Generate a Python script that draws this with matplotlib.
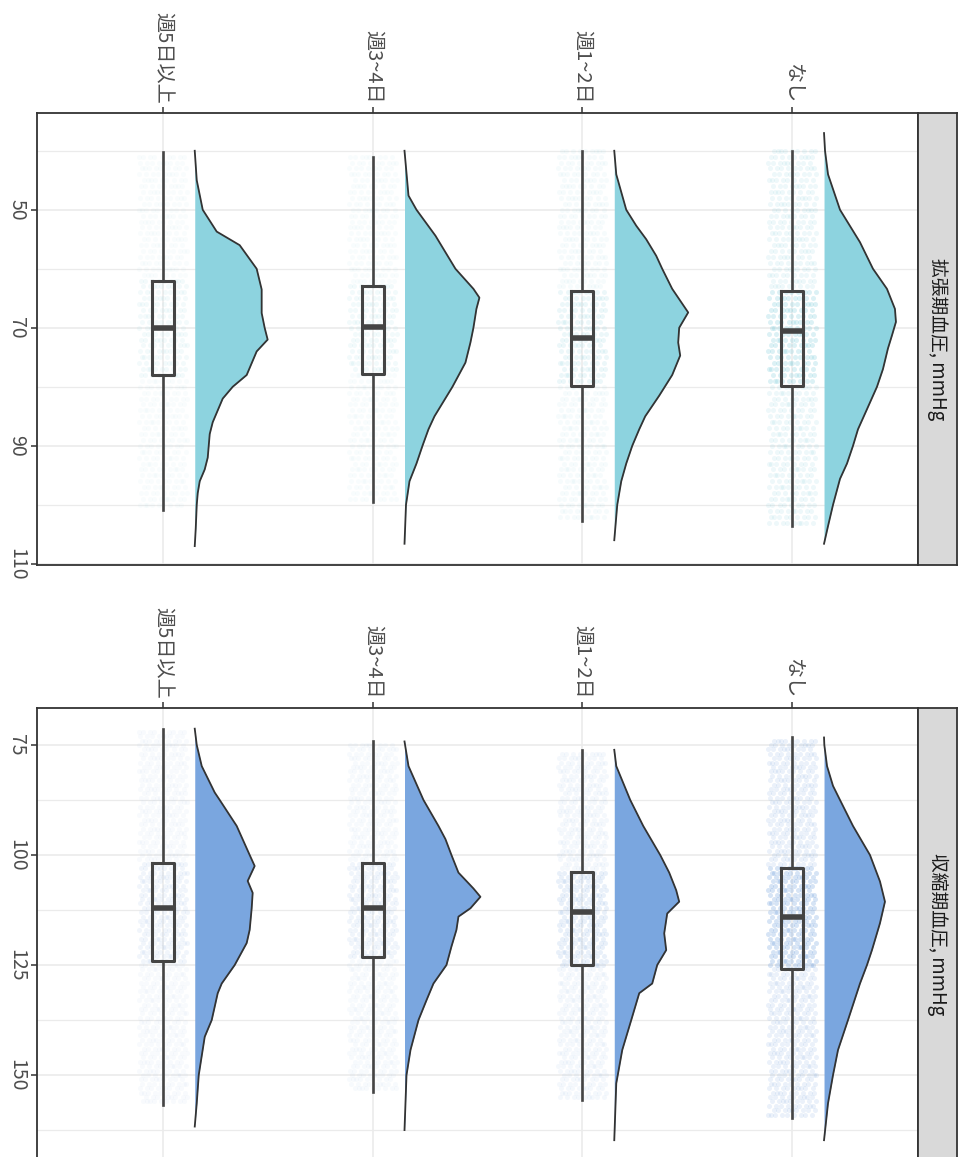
import numpy as np
import matplotlib.pyplot as plt

plt.rcParams['font.family'] = ['Noto Sans CJK JP', 'DejaVu Sans']

groups = ["週5日以上", "週3~4日", "週1~2日", "なし"]

# 拡張期血圧 (diastolic) - half violin profiles (value, width in px)
dia_y = [
    [40, 45, 50, 53.7, 56, 60, 63.5, 67.5, 70, 72, 74, 76, 78, 80, 82, 84, 86, 88, 90, 92, 94, 96, 98, 100, 104, 107],
    [40, 47.6, 50, 54.4, 60, 63.4, 64.9, 66.8, 70, 72.5, 75.9, 80, 85, 87.2, 90, 93, 96, 100, 106.6],
    [40, 44, 50, 52.7, 55, 57.8, 60, 63.4, 67.4, 70, 72.5, 74.7, 78, 81.5, 85, 87.2, 90, 93, 96, 100, 106],
    [37, 40, 44, 50, 55.5, 60, 63.4, 66.8, 69, 71.3, 73.5, 77, 80, 83.8, 87.2, 90, 93, 95.6, 100, 103.6, 106.6],
]
dia_w = [
    [0, 2, 8, 22, 45, 62, 67, 67, 70, 73, 62, 57, 52, 38, 28, 23, 18, 15, 14, 13, 10, 5, 3, 2, 1, 0],
    [0, 4, 12, 31, 51, 69, 75, 72, 69, 66, 61, 48, 30, 24, 18, 12, 5, 1.5, 0],
    [0, 2, 12, 22, 32, 42, 48, 58, 74, 65, 64, 66, 58, 45, 31, 25, 18, 12, 7, 3, 0],
    [0, 1, 4, 16, 36, 49, 63, 71, 72, 68, 64, 59, 53, 43, 34, 29, 23, 16, 9, 4, 0],
]
dia_whislo = [40.2, 41, 40, 40]
dia_q1 = [62, 62.9, 63.7, 63.7]
dia_med = [70, 69.8, 71.8, 70.5]
dia_q3 = [78, 77.9, 79.8, 79.8]
dia_whishi = [100.8, 99.6, 102.7, 103.6]

# 収縮期血圧 (systolic)
sys_y = [
    [71.3, 75, 79.8, 85.8, 87.5, 93.4, 100, 102.5, 105.9, 108.6, 112.1, 117, 120, 125, 129.2, 131.4, 137.5, 141.3, 150, 156.4, 161.7],
    [74.2, 79.8, 87.5, 93.4, 96.4, 100, 104, 107.6, 109.5, 112.1, 114, 117, 120.8, 125, 129.2, 133, 137.5, 144.3, 150, 162.5],
    [76.1, 79.8, 87.5, 93.4, 100, 104, 108, 110.6, 113.3, 117.8, 121.6, 125, 129.2, 131.4, 137.5, 144.3, 151.9, 164.8],
    [73.3, 75, 79.8, 84.3, 87.5, 93.4, 100, 106, 110.6, 115.5, 121.6, 125, 129.2, 137.5, 144.3, 150, 156.4, 164.8],
]
sys_w = [
    [0, 2, 7, 20, 25, 42, 55, 60, 53, 58, 57, 55, 52, 40, 27, 23, 17, 10, 4, 2, 0],
    [0, 4, 19, 34, 41, 47, 54, 69, 76, 66, 54, 52, 47, 42, 29, 22, 14, 6, 2, 0],
    [0, 2, 16, 29, 46, 55, 62, 65, 53, 50, 52, 43, 38, 25, 17, 8, 2, 0],
    [0, 0.3, 3, 9, 16, 29, 46, 56, 61, 56, 48, 43, 36, 24, 14, 9, 4, 0],
]
sys_whislo = [71.3, 74.2, 76.1, 73.3]
sys_q1 = [101.9, 101.9, 103.9, 102.9]
sys_med = [112.1, 112.1, 112.9, 114]
sys_q3 = [124, 123.1, 125, 125.9]
sys_whishi = [156.8, 153.8, 155.7, 159.8]

# how dense the jittered raw points look for each group
dot_alpha = [0.10, 0.11, 0.16, 0.30]

PX = 210.0  # pixels per category step

fig = plt.figure(figsize=(9.6, 11.57), dpi=100)


def panel(rect, ylim, ticks, minor, ys, ws, lo, q1, med, q3, hi, fill, label):
    ax = fig.add_axes(rect)
    ax.set_xlim(0.4, 4.6)
    ax.set_ylim(*ylim)
    ax.set_axisbelow(True)

    # jittered raw points, one row per integer value, spread with a golden-ratio sequence
    n_per_row = 9
    for i in range(4):
        rows = np.arange(np.ceil(lo[i]), np.floor(hi[i]) + 1)
        for k, r in enumerate(rows):
            a = dot_alpha[i] if q1[i] <= r <= q3[i] else dot_alpha[i] * 0.5
            idx = np.arange(n_per_row) + k * n_per_row + i * 101
            xs = i + 1 - 0.115 + 0.23 * ((idx * 0.6180339887) % 1)
            ax.scatter(xs, np.full(len(xs), r), s=13, color=fill, alpha=a,
                       linewidths=0, zorder=2)

    # half violins
    for i in range(4):
        base = i + 1 + 0.152
        w = np.array(ws[i]) / PX
        ax.fill_betweenx(ys[i], base, base + w, color=fill, lw=0, zorder=3)
        ax.plot(base + w, ys[i], color="#333333", lw=1.3, zorder=3)

    stats = [dict(med=med[i], q1=q1[i], q3=q3[i], whislo=lo[i], whishi=hi[i], fliers=[])
             for i in range(4)]
    ax.bxp(stats, positions=[1, 2, 3, 4], widths=0.105, showcaps=False, showfliers=False,
           boxprops=dict(color="#444444", lw=2.2),
           whiskerprops=dict(color="#444444", lw=1.9),
           medianprops=dict(color="#444444", lw=4.0),
           manage_ticks=False, zorder=4)

    ax.set_xticks([1, 2, 3, 4])
    ax.set_xticklabels(groups, rotation=270, fontsize=14.5, color="#4D4D4D")
    ax.xaxis.tick_top()
    ax.set_yticks(ticks)
    ax.set_yticklabels([str(t) for t in ticks], rotation=270, fontsize=14,
                       color="#4D4D4D", va="center")
    ax.set_yticks(minor, minor=True)
    ax.tick_params(which="major", length=4, width=1.1, color="#333333", pad=3)
    ax.tick_params(which="minor", length=0)
    ax.grid(which="major", color="#EBEBEB", lw=1.2)
    ax.yaxis.grid(which="minor", color="#EBEBEB", lw=0.9)
    for s in ax.spines.values():
        s.set_color("#333333")
        s.set_linewidth(1.3)

    # facet strip on the right
    sx = fig.add_axes([rect[0] + rect[2], rect[1], 39 / 960, rect[3]])
    sx.set_xticks([])
    sx.set_yticks([])
    sx.set_facecolor("#D9D9D9")
    for s in sx.spines.values():
        s.set_color("#333333")
        s.set_linewidth(1.3)
    sx.text(0.5, 0.5, label, rotation=270, ha="center", va="center",
            fontsize=13.5, color="#1A1A1A", transform=sx.transAxes)
    return ax


panel([37 / 960, 1 - 565 / 1157, 881 / 960, 452 / 1157], (110.2, 33.6),
      [50, 70, 90, 110], [40, 60, 80, 100],
      dia_y, dia_w, dia_whislo, dia_q1, dia_med, dia_q3, dia_whishi,
      "#8DD3DF", "拡張期血圧, mmHg")

panel([37 / 960, 1 - 1160 / 1157, 881 / 960, 452 / 1157], (169.3, 66.6),
      [75, 100, 125, 150], [87.5, 112.5, 137.5, 162.5],
      sys_y, sys_w, sys_whislo, sys_q1, sys_med, sys_q3, sys_whishi,
      "#7AA6DF", "収縮期血圧, mmHg")

fig.savefig("out.png", dpi=100)
